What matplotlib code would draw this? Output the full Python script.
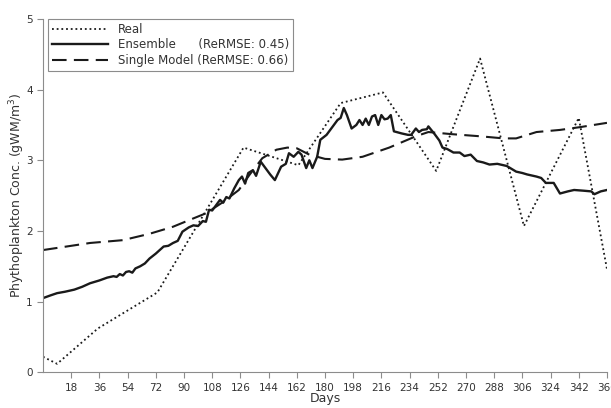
import matplotlib
matplotlib.use("Agg")
import matplotlib.pyplot as plt

# observed phytoplankton concentration (sparse samples)
real_days = [0, 9, 35, 73, 128, 163, 190, 217, 251, 279, 307, 342, 360]
real_vals = [0.22, 0.12, 0.62, 1.13, 3.18, 2.93, 3.81, 3.96, 2.85, 4.44, 2.07, 3.60, 1.46]

# ensemble prediction
ens_days = [0, 5, 9, 14, 20, 25, 30, 36, 41, 45, 47, 49, 51, 53, 55, 57, 59, 62, 65, 68,
            72, 77, 80, 83, 86, 89, 93, 96, 99, 102, 104, 106, 108, 110, 113, 115, 117, 119,
            122, 125, 127, 129, 131, 134, 136, 139, 142, 145, 148, 152, 155, 157, 160, 163,
            165, 168, 170, 172, 175, 177, 181, 185, 188, 190, 192, 194, 197, 200, 202, 204,
            206, 208, 210, 212, 214, 216, 218, 220, 222, 224, 229, 233, 235, 238, 240, 242,
            245, 246, 250, 253, 255, 258, 262, 266, 269, 273, 277, 281, 285, 290, 296, 302,
            306, 309, 315, 318, 321, 326, 330, 335, 339, 345, 350, 352, 356, 360]
ens_vals = [1.05, 1.09, 1.12, 1.14, 1.17, 1.21, 1.26, 1.30, 1.34, 1.36, 1.35, 1.39, 1.37,
            1.42, 1.43, 1.41, 1.47, 1.50, 1.54, 1.61, 1.68, 1.78, 1.79, 1.83, 1.86, 1.99,
            2.05, 2.08, 2.07, 2.14, 2.13, 2.30, 2.29, 2.35, 2.44, 2.40, 2.48, 2.46, 2.60,
            2.72, 2.77, 2.67, 2.82, 2.86, 2.78, 2.98, 2.89, 2.80, 2.72, 2.91, 2.95, 3.10,
            3.05, 3.12, 3.08, 2.89, 3.00, 2.89, 3.05, 3.29, 3.36, 3.48, 3.57, 3.60, 3.74,
            3.64, 3.45, 3.50, 3.57, 3.50, 3.59, 3.50, 3.62, 3.64, 3.50, 3.64, 3.58, 3.59,
            3.64, 3.41, 3.38, 3.36, 3.36, 3.45, 3.40, 3.43, 3.44, 3.48, 3.37, 3.28, 3.18,
            3.16, 3.11, 3.11, 3.06, 3.08, 2.99, 2.97, 2.94, 2.95, 2.92, 2.84, 2.82, 2.80,
            2.77, 2.75, 2.68, 2.68, 2.53, 2.56, 2.58, 2.57, 2.56, 2.52, 2.56, 2.58]

# single model prediction
single_days = [0, 15, 30, 51, 68, 83, 94, 104, 115, 125, 132, 140, 149, 156, 162, 170, 180,
               191, 204, 221, 238, 246, 261, 279, 294, 302, 315, 330, 343, 360]
single_vals = [1.73, 1.78, 1.83, 1.87, 1.96, 2.06, 2.16, 2.25, 2.41, 2.58, 2.80, 3.03, 3.15,
               3.18, 3.17, 3.08, 3.02, 3.01, 3.05, 3.18, 3.34, 3.40, 3.37, 3.34, 3.31, 3.31,
               3.40, 3.43, 3.47, 3.53]

xticks = list(range(18, 361, 18))
yticks = [0, 1, 2, 3, 4, 5]

ink = "#1a1a1a"
grey = "#8c8c8c"
txt = "#333333"

fig = plt.figure(figsize=(6.11, 4.08), dpi=100)
ax = fig.add_axes([0.0704, 0.0875, 0.923, 0.866])

ax.plot(real_days, real_vals, color=ink, lw=1.3, linestyle=(0, (1, 1.6)),
        label="Real")
ax.plot(ens_days, ens_vals, color=ink, lw=1.7, label="Ensemble      (ReRMSE: 0.45)")
ax.plot(single_days, single_vals, color=ink, lw=1.5, linestyle=(0, (7, 3.5)),
        label="Single Model (ReRMSE: 0.66)")

ax.set_xlim(0, 360)
ax.set_ylim(0, 5)
ax.set_xticks(xticks)
ax.set_yticks(yticks)
ax.tick_params(axis="both", colors=grey, labelcolor=txt, labelsize=7.5, length=4, width=0.8)

for side in ["top", "right"]:
    ax.spines[side].set_visible(False)
for side in ["left", "bottom"]:
    ax.spines[side].set_color(grey)
    ax.spines[side].set_linewidth(0.8)

ax.set_xlabel("Days", fontsize=9, color=txt)
ax.set_ylabel("Phythoplankton Conc. (gWM/m$^3$)", fontsize=9, color=txt)
ax.xaxis.set_label_coords(0.5, -0.056)
ax.yaxis.set_label_coords(-0.029, 0.5)

leg = ax.legend(loc="upper left", bbox_to_anchor=(0.008, 1.0), fontsize=8.5,
                handlelength=4.8, borderaxespad=0, fancybox=False, framealpha=1,
                borderpad=0.35, labelspacing=0.2, handletextpad=0.8)
leg.get_frame().set_edgecolor(grey)
leg.get_frame().set_linewidth(0.8)
for t in leg.get_texts():
    t.set_color(txt)

fig.savefig("out.png", dpi=100)
